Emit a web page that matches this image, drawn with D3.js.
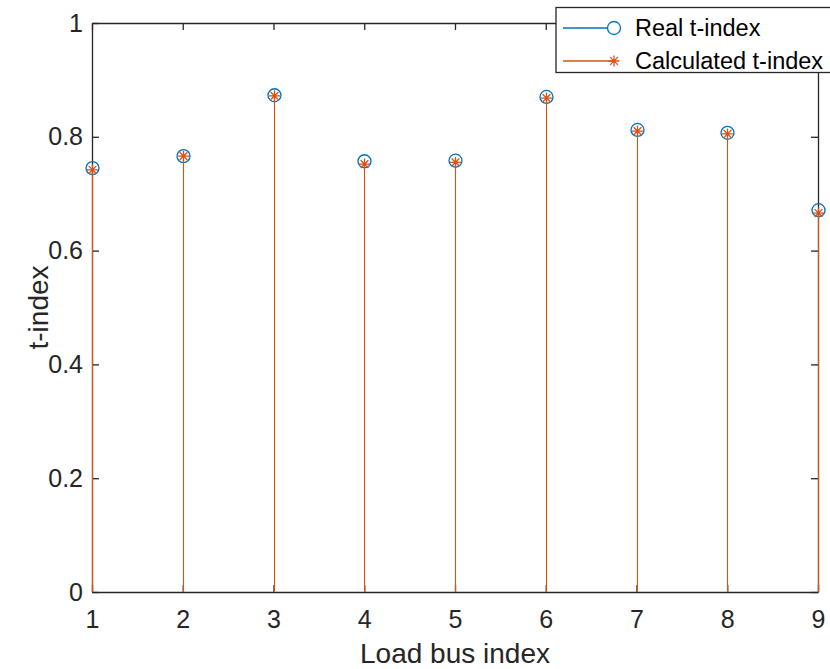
<!DOCTYPE html>
<html>
<head>
<meta charset="utf-8">
<script src="https://cdn.jsdelivr.net/npm/d3@7.9.0/dist/d3.min.js"></script>
<style>
  body { margin: 0; background: #fff; }
  svg { display: block; }
  text { font-family: "Liberation Sans", Arial, sans-serif; }
</style>
</head>
<body>
<svg id="chart" width="830" height="669"></svg>
<script>
// data
const buses = [1, 2, 3, 4, 5, 6, 7, 8, 9];
const realT = [0.745, 0.766, 0.873, 0.757, 0.758, 0.870, 0.812, 0.807, 0.671];
const calcT = [0.742, 0.766, 0.872, 0.752, 0.755, 0.868, 0.810, 0.805, 0.666];
const xTicks = [1, 2, 3, 4, 5, 6, 7, 8, 9];
const yTicks = [0, 0.2, 0.4, 0.6, 0.8, 1];

const blue = '#0072BD', orange = '#D95319', axisCol = '#262626';

const svg = d3.select('#chart');
const plotL = 92, plotR = 818, plotT = 23, plotB = 592;

const x = d3.scaleLinear().domain([1, 9]).range([plotL, plotR]);
const y = d3.scaleLinear().domain([0, 1]).range([plotB, plotT]);
const px = v => Math.round(x(v)) + 0.5;

// axes (ticks inside, full box)
const xAxis = d3.axisBottom(x).tickValues(xTicks).tickSizeInner(-7).tickSizeOuter(0).tickPadding(18);
const yAxis = d3.axisLeft(y).tickValues(yTicks).tickSizeInner(-7).tickSizeOuter(0).tickPadding(9)
  .tickFormat(d => d === 0 ? '0' : d === 1 ? '1' : d3.format('.1f')(d));

const gx = svg.append('g').attr('transform', `translate(0,${plotB})`).call(xAxis);
const gy = svg.append('g').attr('transform', `translate(${plotL},0)`).call(yAxis);
const gxTop = svg.append('g').attr('transform', `translate(0,${plotT})`)
  .call(d3.axisTop(x).tickValues(xTicks).tickSizeInner(-7).tickSizeOuter(0).tickFormat(''));
const gyRight = svg.append('g').attr('transform', `translate(${plotR},0)`)
  .call(d3.axisRight(y).tickValues(yTicks).tickSizeInner(-7).tickSizeOuter(0).tickFormat(''));

[gx, gy, gxTop, gyRight].forEach(g => {
  g.select('.domain').attr('stroke', axisCol).attr('stroke-width', 1.3);
  g.selectAll('.tick line').attr('stroke', axisCol).attr('stroke-width', 1.3);
  g.selectAll('.tick text').attr('fill', axisCol).attr('font-size', 25);
});

// axis labels
svg.append('text').attr('x', (plotL + plotR) / 2).attr('y', 663)
  .attr('text-anchor', 'middle').attr('font-size', 28).attr('fill', axisCol)
  .text('Load bus index');
svg.append('text').attr('transform', `translate(48,${(plotT + plotB) / 2}) rotate(-90)`)
  .attr('text-anchor', 'middle').attr('font-size', 28).attr('fill', axisCol)
  .text('t-index');

// star marker path (MATLAB '*')
function starPath(r) {
  let p = '';
  for (let k = 0; k < 4; k++) {
    const a = k * Math.PI / 4;
    const dx = r * Math.cos(a), dy = r * Math.sin(a);
    p += `M${-dx},${-dy}L${dx},${dy}`;
  }
  return p;
}

// real stems: only the part not covered by the calculated stem shows
const realG = svg.append('g');
buses.forEach((b, i) => {
  realG.append('line').attr('x1', px(b)).attr('x2', px(b))
    .attr('y1', y(Math.min(calcT[i], realT[i]))).attr('y2', y(realT[i]))
    .attr('stroke', blue).attr('stroke-width', 1);
});
realG.selectAll('circle').data(buses).join('circle')
  .attr('cx', d => px(d)).attr('cy', (d, i) => y(realT[i])).attr('r', 6.5)
  .attr('fill', 'none').attr('stroke', blue).attr('stroke-width', 1.3);

// calculated stems + stars
const calcG = svg.append('g');
buses.forEach((b, i) => {
  calcG.append('line').attr('x1', px(b)).attr('x2', px(b)).attr('y1', y(0)).attr('y2', y(calcT[i]))
    .attr('stroke', orange).attr('stroke-width', 1.1);
});
calcG.selectAll('path').data(buses).join('path')
  .attr('transform', (d, i) => `translate(${px(d)},${y(calcT[i])})`)
  .attr('d', starPath(5.5))
  .attr('stroke', orange).attr('stroke-width', 1.3).attr('fill', 'none');

// legend
const lg = svg.append('g');
lg.append('rect').attr('x', 556).attr('y', 7.5).attr('width', 290).attr('height', 65)
  .attr('fill', '#fff').attr('stroke', axisCol).attr('stroke-width', 1.3);
const entries = [
  { label: 'Real t-index', color: blue, marker: 'circle', yy: 28 },
  { label: 'Calculated t-index', color: orange, marker: 'star', yy: 61 }
];
entries.forEach(e => {
  lg.append('line').attr('x1', 563).attr('x2', 614).attr('y1', e.yy).attr('y2', e.yy)
    .attr('stroke', e.color).attr('stroke-width', 1.3);
  if (e.marker === 'circle') {
    lg.append('circle').attr('cx', 614).attr('cy', e.yy).attr('r', 6.5)
      .attr('fill', '#fff').attr('stroke', e.color).attr('stroke-width', 1.3);
  } else {
    lg.append('path').attr('transform', `translate(614,${e.yy})`).attr('d', starPath(5.5))
      .attr('stroke', e.color).attr('stroke-width', 1.3).attr('fill', 'none');
  }
  lg.append('text').attr('x', 635).attr('y', e.yy).attr('dy', '0.35em')
    .attr('font-size', 23.5).attr('fill', '#000').text(e.label);
});
</script>
</body>
</html>
